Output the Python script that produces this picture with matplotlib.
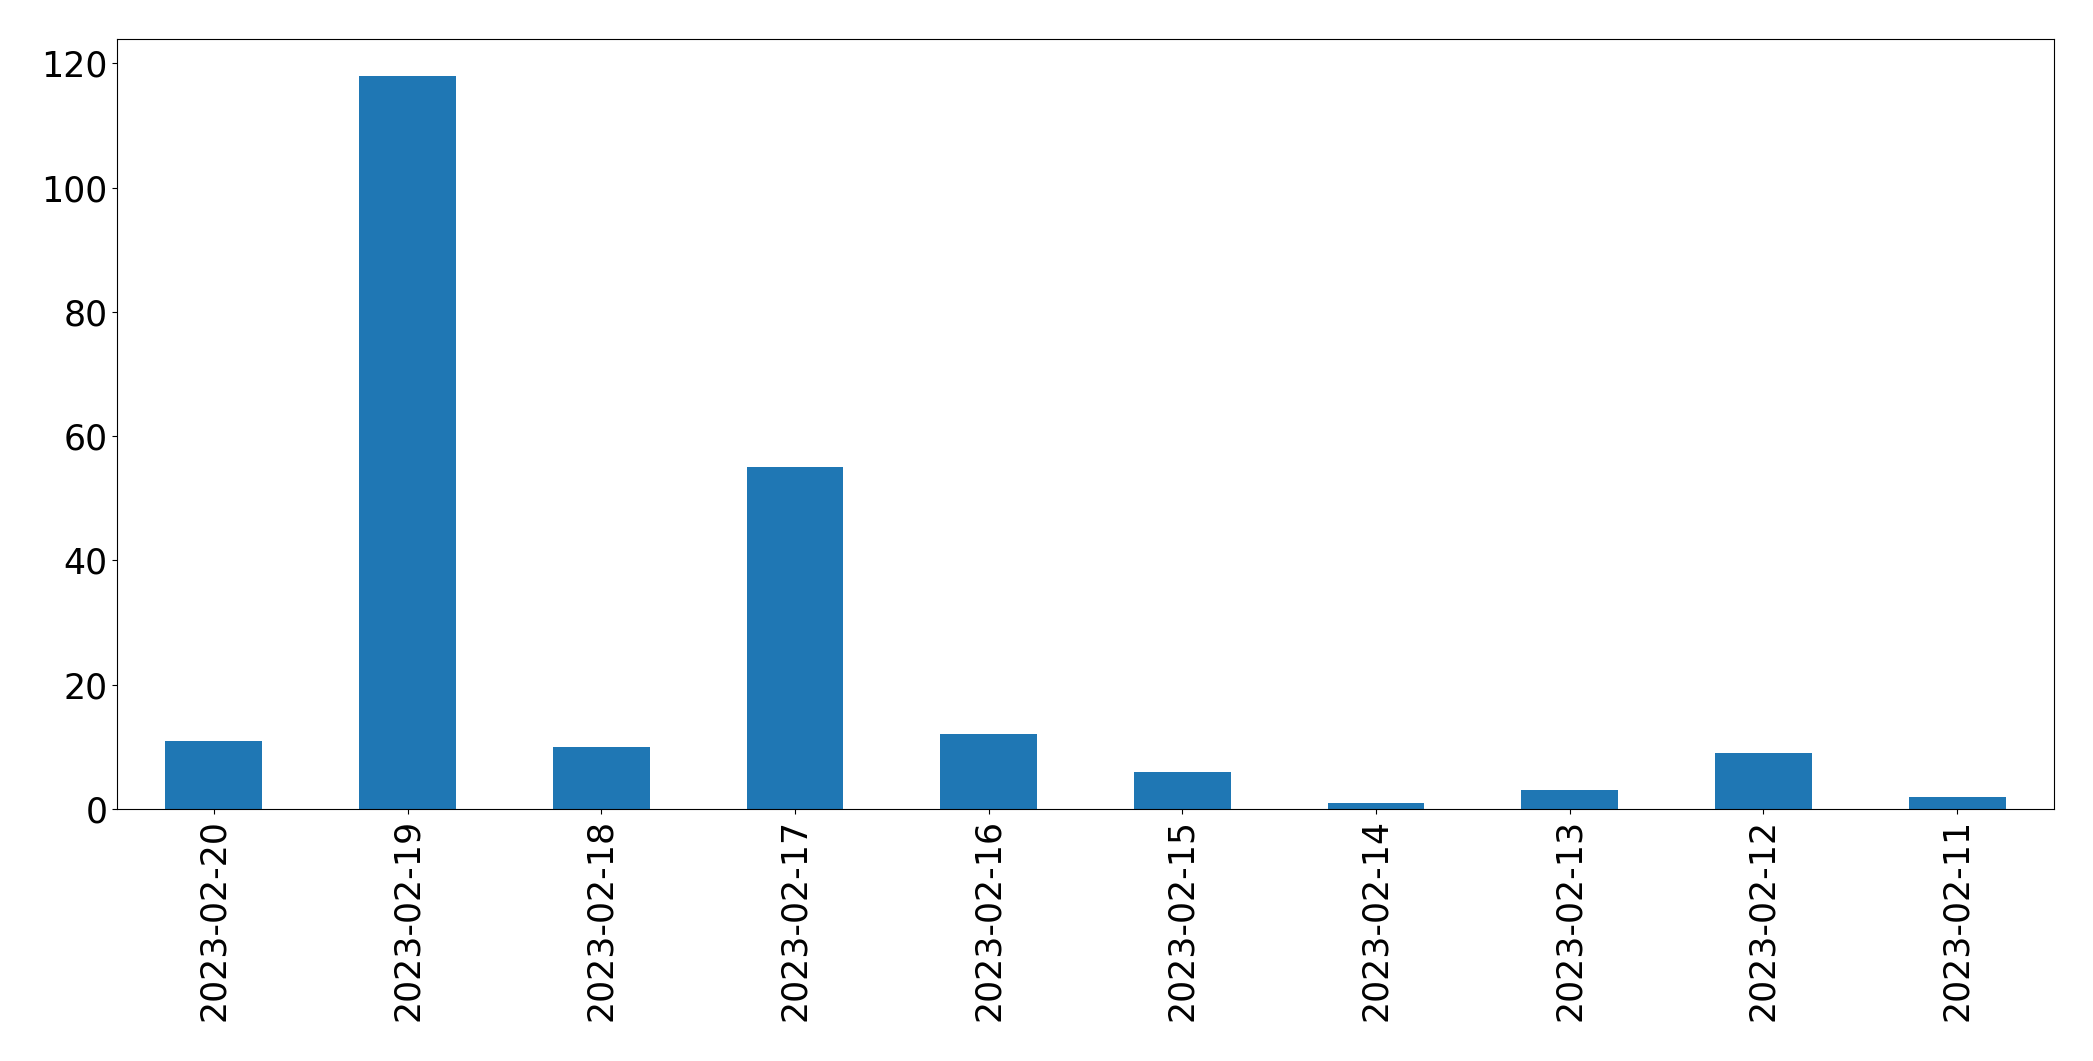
import matplotlib
matplotlib.use("Agg")
import matplotlib.pyplot as plt
import numpy as np

dates = ["2023-02-20", "2023-02-19", "2023-02-18", "2023-02-17", "2023-02-16",
         "2023-02-15", "2023-02-14", "2023-02-13", "2023-02-12", "2023-02-11"]
counts = [11, 118, 10, 55, 12, 6, 1, 3, 9, 2]

fig = plt.figure(figsize=(20.93, 10.61), dpi=100)
ax = fig.add_axes([117/2093, 1 - 809/1061, (2054-117)/2093, (809-39)/1061])
x = np.arange(len(dates))
ax.bar(x, counts, width=0.5, color="#1f77b4")
ax.set_xlim(-0.5, len(dates) - 0.5)
ax.set_ylim(0, max(counts) * 1.05)
ax.set_xticks(x)
ax.set_xticklabels(dates, rotation=90)
ax.tick_params(labelsize=25)
fig.savefig("out.png", dpi=100)
